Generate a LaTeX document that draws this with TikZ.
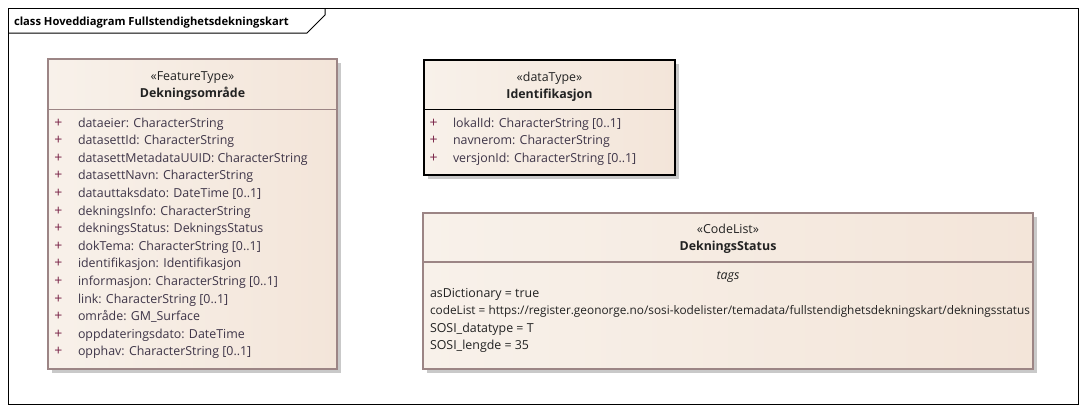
\documentclass[tikz,border=0pt]{standalone}
\usepackage{fontspec}
\setmainfont{Open Sans}
\definecolor{boxborder}{HTML}{9C8585}
\definecolor{boxL}{HTML}{F8F1EA}
\definecolor{boxR}{HTML}{F3E5D9}
\definecolor{shadowgray}{HTML}{C9C9C9}
\definecolor{plusred}{HTML}{7A2448}
\definecolor{attrtext}{HTML}{3E3548}
\definecolor{headtext}{HTML}{222222}
\newcommand{\umlfont}{\fontsize{9.3pt}{11pt}\selectfont}
\newcommand{\titlefont}{\fontsize{8.4pt}{10pt}\selectfont}
\newcommand{\plusfont}{\fontsize{10.5pt}{11pt}\selectfont}
\begin{document}
\begin{tikzpicture}[x=0.75pt,y=-0.75pt,
  every node/.style={inner sep=0pt, outer sep=0pt, font=\umlfont},
  frameline/.style={draw=black, line width=0.75pt},
  classbox/.style={draw=boxborder, line width=0.8pt, left color=boxL, right color=boxR, anchor=north west},
  dtbox/.style={draw=black, line width=1.1pt, left color=boxL, right color=boxR, anchor=north west},
  shadowbox/.style={fill=shadowgray, draw=none, anchor=north west},
  sepline/.style={draw=boxborder, line width=0.8pt},
  dtsep/.style={draw=black, line width=0.9pt},
  stereo/.style={anchor=base, text=headtext},
  cname/.style={anchor=base, text=headtext, font=\umlfont\bfseries},
  plus/.style={anchor=base, text=plusred, font=\plusfont},
  attr/.style={anchor=base west, text=attrtext},
  tagline/.style={anchor=base west, text=headtext},
  tagtitle/.style={anchor=base, text=headtext, font=\umlfont\itshape},
  titletext/.style={anchor=base west, text=black, font=\titlefont\bfseries},
]
\useasboundingbox (0,0) rectangle (1086,412);
\fill[white] (0,0) rectangle (1086,412);

% frame
\draw[frameline] (8,8) rectangle (1078,404);
\coordinate (tabA) at (8,33);
\coordinate (tabB) at (307,33);
\coordinate (tabC) at (325,15);
\coordinate (tabD) at (325,8);
\draw[frameline] (tabA) -- (tabB) -- (tabC) -- (tabD);
\node[titletext] (title) at (14,25) {class Hoveddiagram Fullstendighetsdekningskart};

% Dekningsområde
\node[shadowbox, minimum width=0.75pt*289, minimum height=0.75pt*310] (dekS) at (52,63) {};
\node[classbox, minimum width=0.75pt*289, minimum height=0.75pt*310] (dek) at (48,59) {};
\draw[sepline] ([yshift=-0.75pt*50.5]dek.north west) -- ([yshift=-0.75pt*50.5]dek.north east);
\node[stereo] (dekST) at (192.5,80) {«FeatureType»};
\node[cname] (dekN) at (192.5,97) {Dekningsområde};
\foreach \t [count=\i from 0] in {
  {dataeier: CharacterString},
  {datasettId: CharacterString},
  {datasettMetadataUUID: CharacterString},
  {datasettNavn: CharacterString},
  {datauttaksdato: DateTime [0..1]},
  {dekningsInfo: CharacterString},
  {dekningsStatus: DekningsStatus},
  {dokTema: CharacterString [0..1]},
  {identifikasjon: Identifikasjon},
  {informasjon: CharacterString [0..1]},
  {link: CharacterString [0..1]},
  {område: GM\_Surface},
  {oppdateringsdato: DateTime},
  {opphav: CharacterString [0..1]}}{
  \node[plus] (dekP\i) at (58.5,127+17.6*\i) {+};
  \node[attr] (dekA\i) at (78,127+17.6*\i) {\t};
}

% Identifikasjon
\node[shadowbox, minimum width=0.75pt*251, minimum height=0.75pt*115] (idS) at (428,64) {};
\node[dtbox, minimum width=0.75pt*251, minimum height=0.75pt*115] (id) at (424,60) {};
\draw[dtsep] ([yshift=-0.75pt*49.5]id.north west) -- ([yshift=-0.75pt*49.5]id.north east);
\node[stereo] (idST) at (549.5,81) {«dataType»};
\node[cname] (idN) at (549.5,98) {Identifikasjon};
\foreach \t [count=\i from 0] in {
  {lokalId: CharacterString [0..1]},
  {navnerom: CharacterString},
  {versjonId: CharacterString [0..1]}}{
  \node[plus] (idP\i) at (433.5,127+17.6*\i) {+};
  \node[attr] (idA\i) at (453,127+17.6*\i) {\t};
}

% DekningsStatus
\node[shadowbox, minimum width=0.75pt*610, minimum height=0.75pt*156] (dsS) at (427,217) {};
\node[classbox, minimum width=0.75pt*610, minimum height=0.75pt*156] (ds) at (423,213) {};
\draw[sepline] ([yshift=-0.75pt*49]ds.north west) -- ([yshift=-0.75pt*49]ds.north east);
\node[stereo] (dsST) at (728,233.5) {«CodeList»};
\node[cname] (dsN) at (728,250) {DekningsStatus};
\node[tagtitle] (dsTags) at (728,279) {tags};
\node[tagline] (dsT0) at (430,297) {asDictionary = true};
\node[tagline] (dsT1) at (430,314.5) {\resizebox{450pt}{!}{codeList = https://register.geonorge.no/sosi-kodelister/temadata/fullstendighetsdekningskart/dekningsstatus}};
\node[tagline] (dsT2) at (430,332) {SOSI\_datatype = T};
\node[tagline] (dsT3) at (430,349.5) {SOSI\_lengde = 35};
\end{tikzpicture}
\end{document}
